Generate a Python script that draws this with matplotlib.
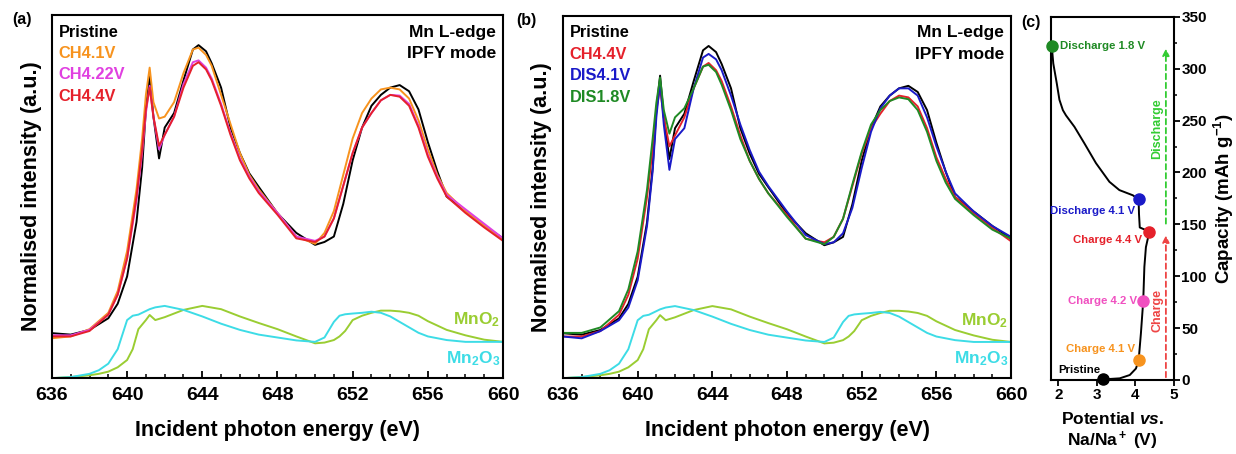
import numpy as np
import matplotlib
matplotlib.use("Agg")
import matplotlib.pyplot as plt
from matplotlib.ticker import MultipleLocator

plt.rcParams['font.family'] = ['Liberation Sans', 'DejaVu Sans']
plt.rcParams['font.weight'] = 'bold'
plt.rcParams['mathtext.fontset'] = 'custom'
plt.rcParams['mathtext.rm'] = 'Liberation Sans:bold'
plt.rcParams['mathtext.bf'] = 'Liberation Sans:bold'
plt.rcParams['mathtext.it'] = 'Liberation Sans:bold:italic'

# --- XAS data (normalised) ---
energy = [636, 637, 638, 639, 639.5, 640, 640.5, 640.8, 641.0, 641.2, 641.4, 641.7,
          642.0, 642.5, 643.0, 643.5, 643.8, 644.2, 644.5, 645, 645.5, 646, 646.5,
          647, 648, 649, 650, 650.5, 651, 651.5, 652, 652.5, 653, 653.5, 654, 654.5,
          655, 655.5, 656, 656.5, 657, 658, 659, 660]

pristine = [.124, .12, .133, .165, .205, .28, .43, .58, .74, .835, .72, .605,
            .69, .73, .82, .905, .917, .90, .867, .80, .69, .62, .564,
            .527, .454, .40, .367, .375, .39, .48, .60, .69, .75, .78, .80, .807,
            .79, .74, .65, .57, .50, .46, .42, .385]
ch41 = [.11, .115, .135, .18, .24, .35, .52, .66, .78, .855, .76, .715,
        .72, .76, .84, .905, .91, .89, .86, .78, .70, .62, .56,
        .52, .455, .39, .37, .40, .46, .56, .66, .73, .77, .795, .80, .795,
        .77, .71, .63, .56, .51, .46, .42, .38]
ch422 = [.118, .118, .133, .175, .23, .33, .49, .62, .73, .805, .72, .63,
         .67, .72, .81, .87, .875, .855, .825, .755, .675, .605, .555,
         .515, .455, .39, .378, .39, .44, .53, .62, .69, .73, .765, .78, .778,
         .755, .695, .615, .555, .505, .465, .425, .385]
ch44 = [.115, .115, .13, .175, .23, .33, .50, .63, .74, .80, .72, .64,
        .67, .72, .80, .86, .87, .85, .82, .75, .67, .60, .55,
        .51, .45, .385, .375, .39, .44, .53, .62, .69, .73, .765, .78, .775,
        .75, .69, .61, .55, .50, .455, .415, .378]
dis41 = [.115, .11, .13, .16, .195, .27, .42, .57, .72, .82, .70, .575,
         .66, .69, .80, .885, .895, .88, .85, .78, .70, .63, .57,
         .53, .46, .395, .37, .375, .40, .47, .58, .68, .745, .78, .80, .80,
         .78, .72, .64, .57, .51, .46, .42, .39]
dis18 = [.125, .125, .14, .185, .245, .35, .52, .66, .76, .83, .74, .675,
         .72, .745, .80, .86, .865, .845, .81, .74, .66, .60, .55,
         .51, .445, .385, .37, .39, .44, .535, .625, .70, .74, .765, .775, .77,
         .74, .68, .60, .54, .495, .45, .41, .385]

energy_ref = [636, 637, 638, 638.5, 639, 639.5, 640, 640.3, 640.6, 641, 641.2, 641.5,
              642, 643, 644, 645, 646, 647, 648, 649, 650, 650.5, 651, 651.3, 651.6,
              652, 652.5, 653, 653.5, 654, 654.5, 655, 655.5, 656, 657, 658, 659, 660]
mn2o3 = [0, .003, .012, .022, .04, .08, .16, .172, .175, .185, .19, .195,
         .199, .188, .17, .15, .133, .12, .112, .104, .10, .112, .155, .172, .176,
         .178, .18, .183, .18, .17, .155, .14, .125, .115, .105, .10, .10, .10]
mno2 = [0, .003, .008, .012, .018, .03, .05, .08, .135, .16, .174, .16,
        .168, .188, .199, .19, .17, .152, .135, .115, .096, .098, .105, .115, .13,
        .16, .172, .18, .186, .186, .184, .18, .172, .157, .133, .118, .106, .10]

# --- Charge/discharge curve ---
potential = [3.17, 3.6, 3.86, 4.02, 4.09, 4.15, 4.21, 4.24, 4.28, 4.37, 4.12, 4.10,
             4.09, 3.94, 3.59, 3.33, 2.98, 2.68, 2.42, 2.2, 2.12, 2.03, 1.96, 1.87, 1.83]
capacity = [0.6, 1.6, 4.8, 11, 18.6, 45, 76, 109, 128, 143, 147, 160,
            174, 178, 183, 191, 209, 228, 244, 255, 260, 270, 286, 305, 322]
state_names = ["Pristine", "Charge 4.1 V", "Charge 4.2 V", "Charge 4.4 V",
               "Discharge 4.1 V", "Discharge 1.8 V"]
state_pot = [3.17, 4.09, 4.21, 4.37, 4.09, 1.83]
state_cap = [1, 19, 76, 143, 174, 322]

c_black = "#000000"
c_orange = "#F7931E"
c_mag = "#E040E0"
c_red = "#E5212B"
c_blue = "#1A1AC8"
c_green = "#1F8A24"
c_mno2 = "#9ACD32"
c_mn2o3 = "#3DDCE6"

fig = plt.figure(figsize=(12.36, 4.54), dpi=100)
ax_a = fig.add_axes([0.042, 0.167, 0.365, 0.800])
ax_b = fig.add_axes([0.4555, 0.167, 0.3625, 0.798])
ax_c = fig.add_axes([0.850, 0.163, 0.0995, 0.800])


def xas_panel(ax, series):
    for y, col, name in series:
        ax.plot(energy, y, color=col, lw=1.4)
    ax.plot(energy_ref, mno2, color=c_mno2, lw=1.4)
    ax.plot(energy_ref, mn2o3, color=c_mn2o3, lw=1.4)
    ax.set_xlim(636, 660)
    ax.set_ylim(0, 1)
    ax.set_yticks([])
    ax.xaxis.set_major_locator(MultipleLocator(4))
    ax.xaxis.set_minor_locator(MultipleLocator(1))
    ax.tick_params(axis='x', which='major', direction='in', length=5, width=1.3,
                   labelsize=14, pad=6)
    ax.tick_params(axis='x', which='minor', direction='in', length=3, width=1.1)
    for sp in ax.spines.values():
        sp.set_linewidth(1.5)
    ax.set_xlabel("Incident photon energy (eV)", fontsize=15.5, fontweight='bold')
    ax.xaxis.set_label_coords(0.5, -0.115)
    ax.set_ylabel("Normalised intensity (a.u.)", fontsize=15.5, fontweight='bold')
    ax.text(0.985, 0.953, "Mn L-edge", transform=ax.transAxes, ha='right', va='center',
            fontsize=12.5, fontweight='bold')
    ax.text(0.985, 0.894, "IPFY mode", transform=ax.transAxes, ha='right', va='center',
            fontsize=12.5, fontweight='bold')
    ax.text(0.993, 0.16, "MnO$_2$", transform=ax.transAxes, ha='right', va='center',
            fontsize=12.5, color=c_mno2)
    ax.text(0.993, 0.055, "Mn$_2$O$_3$", transform=ax.transAxes, ha='right', va='center',
            fontsize=12.5, color=c_mn2o3)
    for i, (y, col, name) in enumerate(series):
        ax.text(0.015, 0.953 - 0.059 * i, name, transform=ax.transAxes, ha='left',
                va='center', fontsize=11.8, fontweight='bold', color=col)


series_a = [(pristine, c_black, "Pristine"), (ch41, c_orange, "CH4.1V"),
            (ch422, c_mag, "CH4.22V"), (ch44, c_red, "CH4.4V")]
series_b = [(pristine, c_black, "Pristine"), (ch44, c_red, "CH4.4V"),
            (dis41, c_blue, "DIS4.1V"), (dis18, c_green, "DIS1.8V")]

xas_panel(ax_a, series_a)
ax_a.yaxis.set_label_coords(-0.022, 0.5)
xas_panel(ax_b, series_b)
ax_b.yaxis.set_label_coords(-0.025, 0.5)

# --- panel c ---
ax_c.plot(potential, capacity, color='black', lw=1.4)
state_cols = ["#000000", "#F7931E", "#F050C0", "#E5212B", "#1A1AC8", "#1F8A24"]
for p, c, col in zip(state_pot, state_cap, state_cols):
    ax_c.plot(p, c, 'o', color=col, ms=8, clip_on=False, zorder=5)
label_pos = [(3.1, 10, 'right'), (4.0, 30, 'right'), (4.06, 76, 'right'),
             (4.19, 135, 'right'), (4.0, 163, 'right'), (2.04, 322, 'left')]
for name, col, (lx, ly, ha) in zip(state_names, state_cols, label_pos):
    ax_c.text(lx, ly, name, color=col, ha=ha, va='center', fontsize=8.2,
              fontweight='bold')

ax_c.annotate("", xy=(4.8, 142), xytext=(4.8, 0),
              arrowprops=dict(arrowstyle='-|>', color='#EE4444', lw=1.3,
                              linestyle=(0, (3, 2)), mutation_scale=10))
ax_c.annotate("", xy=(4.8, 322), xytext=(4.8, 148),
              arrowprops=dict(arrowstyle='-|>', color='#33CC33', lw=1.3,
                              linestyle=(0, (3, 2)), mutation_scale=10))
ax_c.text(4.58, 67, "Charge", color='#EE4444', rotation=90, ha='center', va='center',
          fontsize=9, fontweight='bold')
ax_c.text(4.58, 242, "Discharge", color='#33CC33', rotation=90, ha='center', va='center',
          fontsize=9, fontweight='bold')

ax_c.set_xlim(1.8, 5)
ax_c.set_ylim(0, 350)
ax_c.set_xticks([2, 3, 4, 5])
ax_c.yaxis.tick_right()
ax_c.yaxis.set_label_position('right')
ax_c.yaxis.set_major_locator(MultipleLocator(50))
ax_c.yaxis.set_minor_locator(MultipleLocator(25))
ax_c.tick_params(axis='both', which='major', direction='out', length=4, width=1.3,
                 labelsize=11, pad=1.5)
ax_c.tick_params(axis='y', which='minor', direction='out', length=2.5, width=1.1)
for sp in ax_c.spines.values():
    sp.set_linewidth(1.5)
ax_c.set_ylabel("Capacity (mAh g$^{-1}$)", fontsize=13.5, fontweight='bold')
ax_c.yaxis.set_label_coords(1.315, 0.5)
ax_c.set_xlabel("Potential $\\it{vs.}$\nNa/Na$^+$ (V)", fontsize=12.5, fontweight='bold',
                linespacing=1.2)
ax_c.xaxis.set_label_coords(0.5, -0.085)

fig.text(0.010, 0.957, "(a)", fontsize=11.5, fontweight='bold', va='center')
fig.text(0.418, 0.955, "(b)", fontsize=11.5, fontweight='bold', va='center')
fig.text(0.826, 0.950, "(c)", fontsize=11.5, fontweight='bold', va='center')

fig.savefig("out.png", dpi=100)
